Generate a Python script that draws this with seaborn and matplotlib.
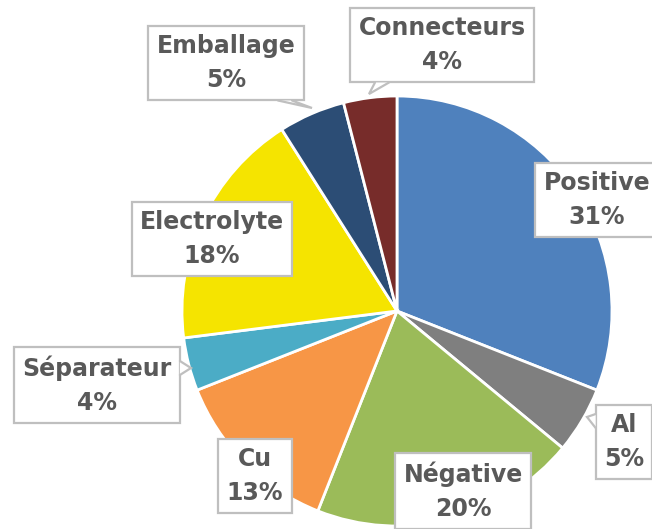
import matplotlib
matplotlib.use("Agg")
import matplotlib.pyplot as plt
from matplotlib.patches import Polygon
import seaborn as sns

# Cost breakdown of a battery cell by component (%)
components = ["Positive", "Al", "Négative", "Cu", "Séparateur",
              "Electrolyte", "Emballage", "Connecteurs"]
shares = [31, 5, 20, 13, 4, 18, 5, 4]
colors = ["#4F81BD", "#7F7F7F", "#9BBB59", "#F79646", "#4BACC6",
          "#F5E400", "#2C4D75", "#772C2A"]

sns.set_theme(style="white")
plt.rcParams["font.family"] = ["DejaVu Sans"]

W, H = 652, 529
fig = plt.figure(figsize=(W / 100, H / 100), dpi=100)
ax = fig.add_axes([0, 0, 1, 1])

cx, cy, r = 397, H - 311, 215
ax.pie(shares, colors=colors, startangle=90, counterclock=False,
       center=(cx, cy), radius=r, frame=True,
       wedgeprops=dict(edgecolor="white", linewidth=2))
ax.set_xlim(0, W)
ax.set_ylim(0, H)
ax.set_aspect("equal")
ax.axis("off")

# label box centres, in pixels from the top-left corner
label_pos = {
    "Positive": (597, 200),
    "Al": (624, 442),
    "Négative": (463, 491),
    "Cu": (255, 476),
    "Séparateur": (97, 385),
    "Electrolyte": (212, 239),
    "Emballage": (226, 63),
    "Connecteurs": (442, 45),
}
# callout tails: (tip, box edge, centre of the tail base along that edge)
tails = {
    "Al": ((587, 417), "left", 421),
    "Séparateur": ((191, 368), "right", 368),
    "Emballage": ((312, 108), "bottom", 285),
    "Connecteurs": ((369, 94), "bottom", 382),
}

edge_col = "#BFBFBF"
box = dict(boxstyle="square,pad=0.35", fc="white", ec=edge_col, lw=1.6)
texts = {}
for name, val in zip(components, shares):
    x, y = label_pos[name]
    texts[name] = ax.text(x, H - y, f"{name}\n{val}%", ha="center", va="center",
                          fontsize=17, fontweight="bold", color="#595959",
                          linespacing=1.55, bbox=box, zorder=5)

fig.canvas.draw()
inv = ax.transData.inverted()
half = 7
for name, (tip, edge, c) in tails.items():
    bb = texts[name].get_bbox_patch().get_window_extent().transformed(inv)
    tx, ty = tip[0], H - tip[1]
    if edge == "bottom":
        p1, p2 = (c - half, bb.y0), (c + half, bb.y0)
    elif edge == "top":
        p1, p2 = (c - half, bb.y1), (c + half, bb.y1)
    elif edge == "left":
        p1, p2 = (bb.x0, H - c + half), (bb.x0, H - c - half)
    else:
        p1, p2 = (bb.x1, H - c + half), (bb.x1, H - c - half)
    ax.add_patch(Polygon([p1, (tx, ty), p2], closed=True, fc="white",
                         ec="none", zorder=6))
    ax.plot([p1[0], tx, p2[0]], [p1[1], ty, p2[1]], color=edge_col,
            lw=1.6, solid_joinstyle="miter", zorder=7)

fig.savefig("out.png", dpi=100)
